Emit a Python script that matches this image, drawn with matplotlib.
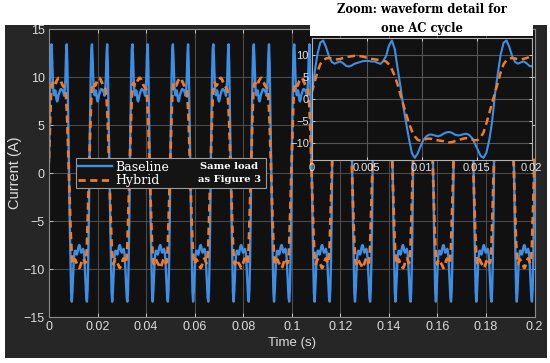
import numpy as np
import matplotlib
matplotlib.use("Agg")
import matplotlib.pyplot as plt
from matplotlib.patches import Rectangle

freq = 60.0
n_cycles = 12
samples_per_cycle = 64

baseline_cycle = [
    1.2, 6.0, 10.3, 12.9, 13.4, 11.9, 9.8, 8.5, 8.1, 8.4, 8.6, 8.2, 7.6, 7.45, 7.7, 8.1,
    8.3, 8.5, 8.7, 8.75, 8.7, 8.6, 8.6, 8.3, 8.05, 8.7, 9.9, 12.3, 13.4, 11.4, 7.0, 2.8,
    -1.7, -5.6, -9.2, -12.4, -13.4, -12.4, -10.8, -9.3, -8.5, -8.1, -8.1, -8.3, -8.5, -8.3, -7.9, -7.6,
    -7.5, -7.7, -8.1, -8.3, -8.2, -8.0, -7.9, -8.2, -8.9, -10.2, -11.6, -13.0, -13.4, -12.2, -9.3, -5.0,
]
hybrid_cycle = [
    1.5, 3.8, 6.2, 8.0, 8.9, 9.3, 9.4, 9.3, 9.1, 9.1, 9.2, 9.4, 9.6, 9.7, 9.8, 9.9,
    9.9, 9.8, 9.7, 9.5, 9.4, 9.2, 9.1, 9.0, 8.9, 8.8, 8.6, 7.9, 6.8, 5.3, 3.3, 1.0,
    -1.3, -3.5, -5.6, -7.3, -8.5, -9.3, -9.5, -9.3, -9.1, -9.0, -9.1, -9.3, -9.4, -9.5, -9.6, -9.8,
    -9.9, -9.8, -9.6, -9.4, -9.2, -9.0, -8.9, -9.0, -9.2, -9.4, -9.3, -8.7, -7.6, -5.5, -3.2, -0.8,
]

x_ticks = [0, 0.02, 0.04, 0.06, 0.08, 0.1, 0.12, 0.14, 0.16, 0.18, 0.2]
x_ticklabels = ["0", "0.02", "0.04", "0.06", "0.08", "0.1", "0.12", "0.14", "0.16", "0.18", "0.2"]
y_ticks = [-15, -10, -5, 0, 5, 10, 15]
zoom_x_ticks = [0, 0.005, 0.01, 0.015, 0.02]
zoom_x_ticklabels = ["0", "0.005", "0.01", "0.015", "0.02"]
zoom_y_ticks = [-10, -5, 0, 5, 10]

blue = "#3d8fe6"
orange = "#ee7c2c"
serif = ["DejaVu Serif"]
sans = ["Liberation Sans", "DejaVu Sans"]
plt.rcParams["font.family"] = sans


def build(cycle, n):
    vals = np.tile(np.array(cycle), n)
    vals = np.append(vals, cycle[0])
    t = np.arange(len(vals)) / (freq * samples_per_cycle)
    return t, vals


t_main, base_main = build(baseline_cycle, n_cycles)
_, hyb_main = build(hybrid_cycle, n_cycles)
t_zoom, base_zoom = build(baseline_cycle, 2)
_, hyb_zoom = build(hybrid_cycle, 2)

W, H = 550, 363
fig = plt.figure(figsize=(5.5, 3.63), dpi=100)
fig.patch.set_facecolor("white")

# dark panel behind everything
fig.patches.append(Rectangle((5 / W, 1 - 358 / H), 542 / W, 333 / H, transform=fig.transFigure,
                             facecolor="#262626", edgecolor="none", zorder=-10))

# main axes
ax = fig.add_axes([49 / W, 1 - 317 / H, 485.5 / W, 288 / H])
ax.set_facecolor("#111111")
ax.plot(t_main, base_main, color=blue, lw=1.7, label="Baseline")
ax.plot(t_main, hyb_main, color=orange, lw=2.0, dashes=(2.6, 1.6), label="Hybrid")
ax.set_xlim(0, 0.2)
ax.set_ylim(-15, 15)
ax.set_xticks(x_ticks)
ax.set_xticklabels(x_ticklabels)
ax.set_yticks(y_ticks)
ax.grid(True, color="#4a4a4a", lw=0.8)
ax.set_axisbelow(True)
ax.tick_params(colors="#dcdcdc", labelsize=9, direction="in", length=3, width=0.6,
               top=True, right=True, pad=3)
for s in ax.spines.values():
    s.set_color("#8a8a8a")
    s.set_linewidth(0.8)
ax.set_xlabel("Time (s)", color="#dcdcdc", fontsize=9.5, labelpad=3)
ax.set_ylabel("Current (A)", color="#dcdcdc", fontsize=10.5, labelpad=1)

# legend with its own box so the note fits inside
box = Rectangle((0.0556, 0.448), 0.391, 0.104, transform=ax.transAxes, facecolor="#141414",
                edgecolor="#9a9a9a", lw=0.8, zorder=4.5, clip_on=False)
ax.add_patch(box)
leg = ax.legend(loc="upper left", bbox_to_anchor=(0.0556, 0.552), frameon=False,
                prop={"family": serif, "size": 9}, handlelength=2.7, handletextpad=0.25,
                labelspacing=0.05, borderpad=0.2, borderaxespad=0)
for txt in leg.get_texts():
    txt.set_color("white")
ax.text(0.371, 0.50, "Same load\nas Figure 3", transform=ax.transAxes, color="white",
        fontsize=7.2, family=serif, fontweight="bold", ha="center", va="center",
        linespacing=1.45, zorder=6)

# white title block over the top of the main axes, then the inset above it
fig.patches.append(Rectangle((310 / W, 1 - 35.7 / H), 223 / W, 35.7 / H, transform=fig.transFigure,
                             facecolor="white", edgecolor="none", zorder=0.5))
axins = fig.add_axes([311.7 / W, 1 - 160 / H, 220 / W, 121.7 / H])
axins.set_zorder(1)
axins.set_facecolor("#111111")
axins.plot(t_zoom, base_zoom, color=blue, lw=1.5)
axins.plot(t_zoom, hyb_zoom, color=orange, lw=1.8, dashes=(3.0, 1.8))
axins.set_xlim(0, 0.02)
axins.set_ylim(-13.9, 13.9)
axins.set_xticks(zoom_x_ticks)
axins.set_xticklabels(zoom_x_ticklabels)
axins.set_yticks(zoom_y_ticks)
axins.grid(True, color="#555555", lw=0.8)
axins.set_axisbelow(True)
axins.tick_params(colors="#e6e6e6", labelsize=8, direction="in", length=2.5, width=0.6,
                  top=True, right=True, pad=2)
for s in axins.spines.values():
    s.set_color("#b0b0b0")
    s.set_linewidth(0.8)
fig.text(421.7 / W, 1 - 9.5 / H, "Zoom: waveform detail for", ha="center", va="center",
         family=serif, fontweight="bold", fontsize=8.3, color="black", zorder=3)
fig.text(421.7 / W, 1 - 28.5 / H, "one AC cycle", ha="center", va="center",
         family=serif, fontweight="bold", fontsize=8.3, color="black", zorder=3)

fig.savefig("out.png", dpi=100)
